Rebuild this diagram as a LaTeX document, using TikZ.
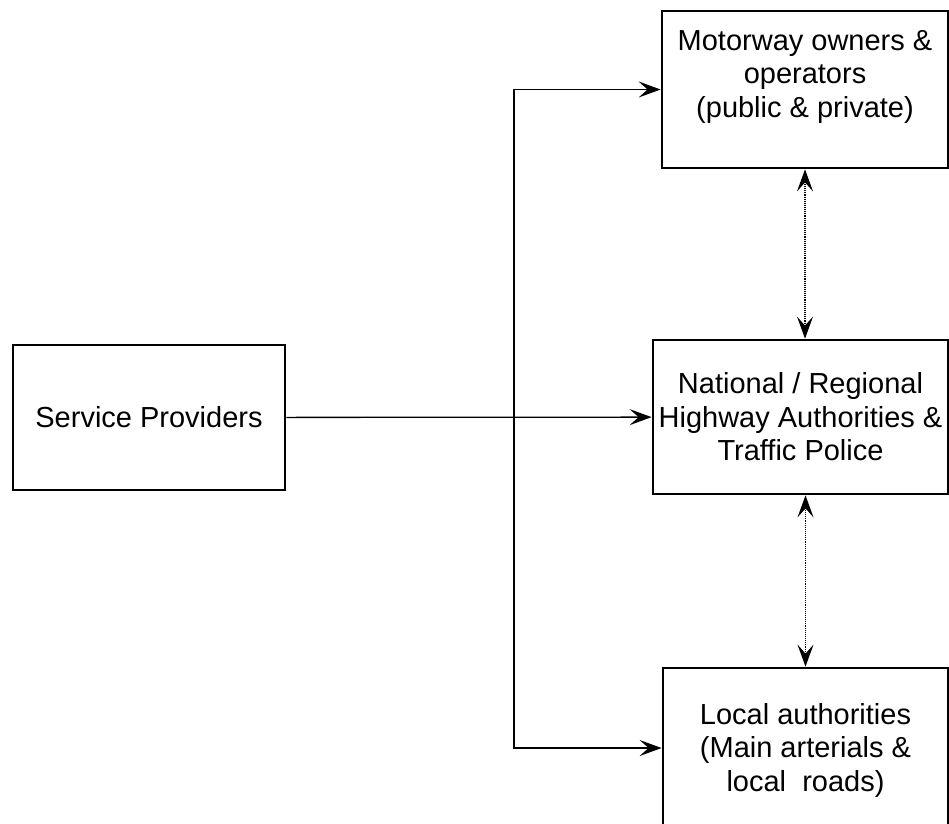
\documentclass[tikz,border=0pt]{standalone}
\usepackage{fontspec}
\setmainfont{Liberation Sans}
\usetikzlibrary{arrows.meta,positioning}

\begin{document}
\begin{tikzpicture}[x=1pt,y=-1pt,>={Stealth[length=22pt,width=16pt,inset=9pt]},
font=\fontsize{29}{33.5}\selectfont,
box/.style={draw=black,line width=2.8pt,align=center,fill=white,inner sep=0pt},
arr/.style={->,line width=1.3pt,draw=black},
darr/.style={<->,line width=1.1pt,draw=black,densely dotted}]
\useasboundingbox (0,0) rectangle (949,823);
\clip (0,0) rectangle (949,823);
\node[box,minimum width=272,minimum height=145] (sp) at (149,417.5) {Service Providers};
\node[box,minimum width=286,minimum height=157,text depth=32pt] (mo) at (805,89.5) {Motorway owners \&\\operators\\(public \& private)};
\node[box,minimum width=295,minimum height=154] (na) at (800.5,417) {National / Regional\\Highway Authorities \&\\Traffic Police};
\node[box,minimum width=285,minimum height=160,text depth=2pt] (lo) at (805.5,748) {Local authorities\\(Main arterials \&\\local~ roads)};
\coordinate (jn) at (514,418);
\draw[arr] (sp) -- (na);
\draw[arr] (jn) |- (mo.west);
\draw[arr] (jn) |- (lo.west);
\draw[darr] (mo.south) -- (mo.south |- na.north);
\draw[darr] (na.south -| lo.north) -- (lo.north);
\end{tikzpicture}
\end{document}
